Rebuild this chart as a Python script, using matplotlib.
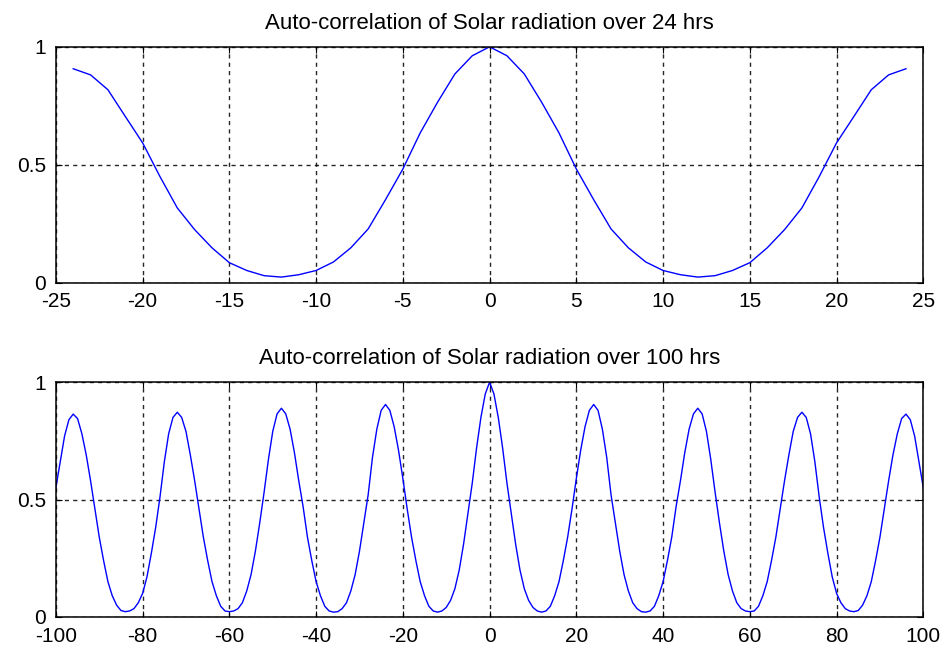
import numpy as np
import matplotlib.pyplot as plt

# auto-correlation over 24 hrs, lags 0..24 (symmetric about 0)
lag24 = np.arange(0, 25)
acf24 = [1.0, 0.962, 0.885, 0.765, 0.635, 0.482, 0.352, 0.228, 0.148, 0.088,
         0.052, 0.034, 0.024, 0.03, 0.052, 0.085, 0.148, 0.225, 0.317, 0.45,
         0.593, 0.705, 0.818, 0.881, 0.907]

# auto-correlation over 100 hrs, lags 0..100 (symmetric about 0)
lag100 = np.arange(0, 101)
acf100 = [1.0, 0.95, 0.85, 0.72, 0.57, 0.44, 0.31, 0.20, 0.12, 0.07,
          0.04, 0.025, 0.02, 0.025, 0.045, 0.09, 0.15, 0.24, 0.34, 0.46,
          0.59, 0.71, 0.81, 0.88, 0.905, 0.88, 0.80, 0.68, 0.52, 0.40,
          0.28, 0.18, 0.11, 0.06, 0.035, 0.022, 0.02, 0.025, 0.045, 0.09,
          0.15, 0.24, 0.34, 0.47, 0.58, 0.70, 0.80, 0.865, 0.889, 0.865,
          0.79, 0.67, 0.53, 0.40, 0.28, 0.18, 0.11, 0.06, 0.035, 0.025,
          0.022, 0.025, 0.045, 0.09, 0.15, 0.24, 0.34, 0.46, 0.58, 0.69,
          0.79, 0.85, 0.872, 0.85, 0.78, 0.66, 0.51, 0.38, 0.27, 0.17,
          0.10, 0.06, 0.035, 0.025, 0.022, 0.027, 0.05, 0.09, 0.15, 0.24,
          0.34, 0.46, 0.58, 0.69, 0.78, 0.845, 0.864, 0.84, 0.77, 0.66,
          0.55]

def mirror(lags, vals):
    lags = np.asarray(lags)
    vals = np.asarray(vals)
    return np.concatenate([-lags[:0:-1], lags]), np.concatenate([vals[:0:-1], vals])

plt.rcParams['font.family'] = ['Liberation Sans', 'DejaVu Sans']
plt.rcParams['axes.unicode_minus'] = False

fig = plt.figure(figsize=(9.47, 6.5), dpi=100)
ax1 = fig.add_axes([0.059, 0.565, 0.916, 0.363])
ax2 = fig.add_axes([0.059, 0.051, 0.916, 0.361])

panels = [(ax1, lag24, acf24, 25, 5, "Auto-correlation of Solar radiation over 24 hrs"),
          (ax2, lag100, acf100, 100, 20, "Auto-correlation of Solar radiation over 100 hrs")]

for ax, lags, vals, lim, step, title in panels:
    x, y = mirror(lags, vals)
    ax.plot(x, y, color='#0000ff', linewidth=1.0)
    ax.set_xlim(-lim, lim)
    ax.set_ylim(0, 1)
    ax.set_xticks(np.arange(-lim, lim + 1, step))
    ax.set_yticks([0, 0.5, 1])
    ax.set_yticklabels(['0', '0.5', '1'], va='center_baseline')
    ax.grid(True, color='black', linestyle=(0, (3, 3)), linewidth=1.0, alpha=0.85)
    ax.tick_params(direction='in', length=4, labelsize=15, top=True, right=True)
    ax.tick_params(axis='x', pad=7)
    ax.tick_params(axis='y', pad=7)
    for s in ax.spines.values():
        s.set_linewidth(1.1)
    ax.set_title(title, fontsize=16, pad=13)

fig.savefig("out.png", dpi=100)
